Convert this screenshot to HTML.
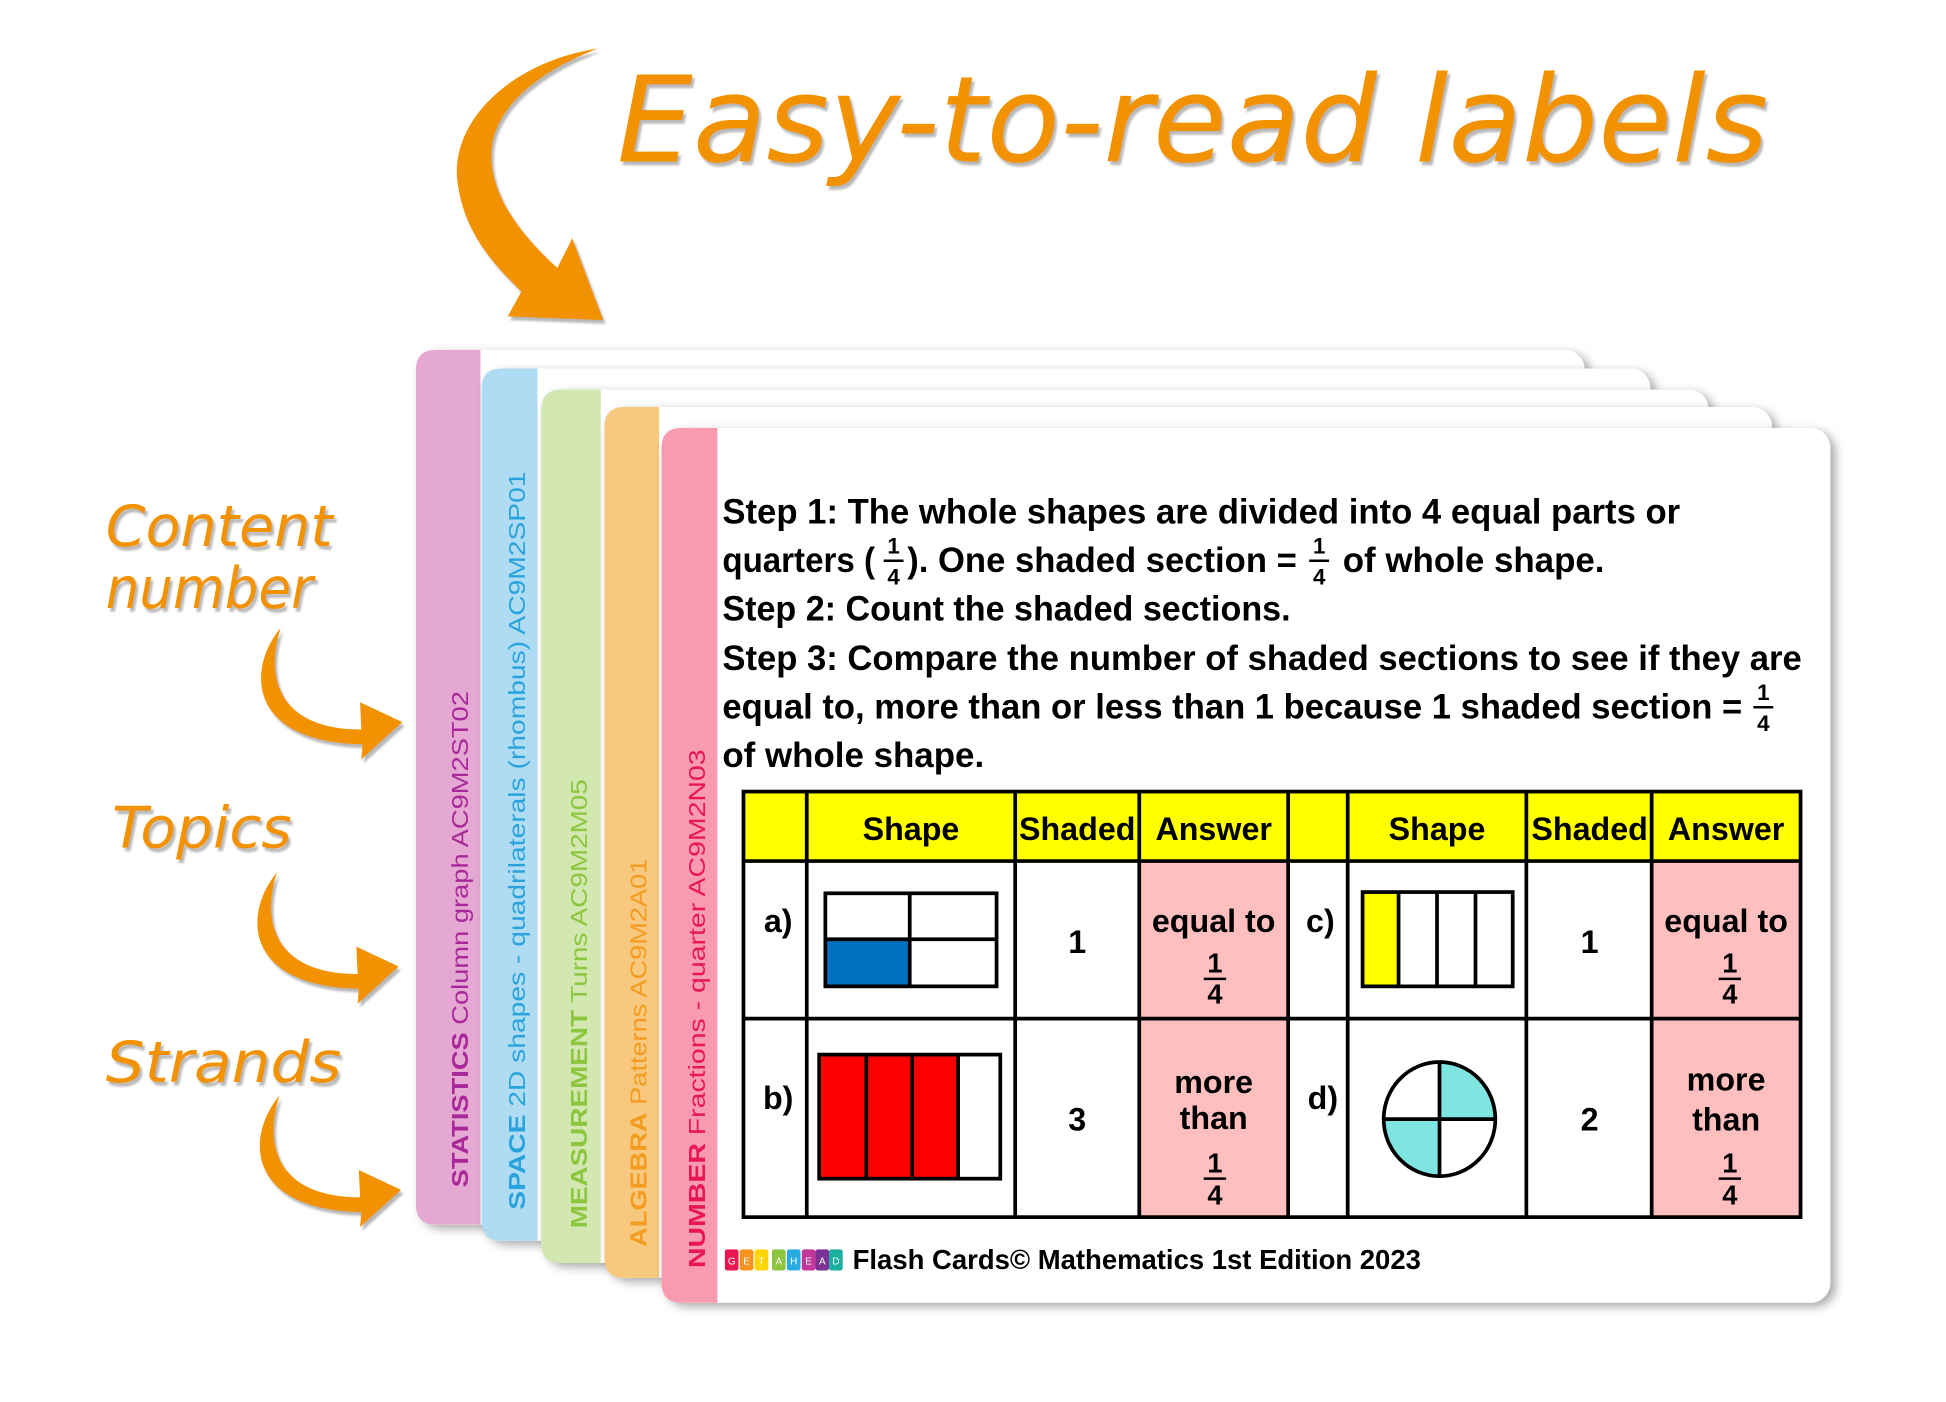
<!DOCTYPE html>
<html><head><meta charset="utf-8"><style>
html,body{margin:0;padding:0;background:#fff;}
svg{display:block;}
.b{font-family:"Liberation Sans Narrow","Liberation Sans",sans-serif;font-weight:bold;fill:#000;}
.h{font-family:"DejaVu Sans","Liberation Sans",sans-serif;font-style:oblique;fill:#f39200;}
.v{font-family:"Liberation Sans",sans-serif;font-size:19px;}
</style></head><body>
<svg width="1946" height="1402" viewBox="0 0 1568 1130" xmlns="http://www.w3.org/2000/svg">
<defs>
<filter id="sh" x="-5%" y="-5%" width="115%" height="115%"><feDropShadow dx="4" dy="3" stdDeviation="4" flood-color="#000" flood-opacity="0.35"/></filter>
<filter id="ts" x="-5%" y="-5%" width="110%" height="120%"><feDropShadow dx="2" dy="3" stdDeviation="0.8" flood-color="#888" flood-opacity="0.6"/></filter>
</defs>

<!-- title -->
<text class="h" x="497" y="130" font-size="96" textLength="928" lengthAdjust="spacingAndGlyphs" filter="url(#ts)">Easy-to-read labels</text>
<path filter="url(#ts)" fill="#f39200" d="M482,39 C410,50 360,100 369,150 C375,190 400,215 420,235 L409,255 L486,258 L461,192 L449,216 C415,185 390,150 397,113 C405,80 440,55 482,39 Z"/>

<!-- side labels -->
<g class="h" font-size="46" filter="url(#ts)">
<text x="85" y="440" textLength="183" lengthAdjust="spacingAndGlyphs">Content</text>
<text x="85" y="490" textLength="167" lengthAdjust="spacingAndGlyphs">number</text>
<text x="90" y="683" textLength="145" lengthAdjust="spacingAndGlyphs">Topics</text>
<text x="85" y="872" textLength="190" lengthAdjust="spacingAndGlyphs">Strands</text>
</g>
<g fill="#f39200" filter="url(#ts)">
<path id="ca" d="M226,506 C198,540 200,598 292,600 L291,612 L324,582 L290,566 L291,588 C228,588 212,550 226,506 Z"/>
<use href="#ca" transform="translate(-3,197)"/>
<use href="#ca" transform="translate(-1,377)"/>
</g>

<!-- card 1 -->
<g filter="url(#sh)"><rect x="335" y="282" width="942" height="705" rx="16" fill="#fff"/></g>
<path d="M351,282 H387 V987 H351 Q335,987 335,971 V298 Q335,282 351,282 Z" fill="#e4a8d2"/>
<text class="v" transform="translate(377,957) rotate(-90)" fill="#a8289a" textLength="400" lengthAdjust="spacingAndGlyphs"><tspan font-weight="bold">STATISTICS</tspan> Column graph AC9M2ST02</text>
<!-- card 2 -->
<g filter="url(#sh)"><rect x="388" y="297" width="942" height="703" rx="16" fill="#fff"/></g>
<path d="M404,297 H433 V1000 H404 Q388,1000 388,984 V313 Q388,297 404,297 Z" fill="#b0dcf3"/>
<text class="v" transform="translate(423,975) rotate(-90)" fill="#2aa3dc" textLength="595" lengthAdjust="spacingAndGlyphs"><tspan font-weight="bold">SPACE</tspan> 2D shapes - quadrilaterals (rhombus) AC9M2SP01</text>
<!-- card 3 -->
<g filter="url(#sh)"><rect x="436" y="314" width="941" height="704" rx="16" fill="#fff"/></g>
<path d="M452,314 H484 V1018 H452 Q436,1018 436,1002 V330 Q436,314 452,314 Z" fill="#d3e8b0"/>
<text class="v" transform="translate(473,990) rotate(-90)" fill="#8cc63f" textLength="362" lengthAdjust="spacingAndGlyphs"><tspan font-weight="bold">MEASUREMENT</tspan> Turns AC9M2M05</text>
<!-- card 4 -->
<g filter="url(#sh)"><rect x="487" y="328" width="941" height="702" rx="16" fill="#fff"/></g>
<path d="M503,328 H531 V1030 H503 Q487,1030 487,1014 V344 Q487,328 503,328 Z" fill="#f7c87e"/>
<text class="v" transform="translate(521,1005) rotate(-90)" fill="#f39c1f" textLength="313" lengthAdjust="spacingAndGlyphs"><tspan font-weight="bold">ALGEBRA</tspan> Patterns AC9M2A01</text>
<!-- card 5 front -->
<g filter="url(#sh)"><rect x="533" y="345" width="942" height="705" rx="16" fill="#fff"/></g>
<path d="M549,345 H578 V1050 H549 Q533,1050 533,1034 V361 Q533,345 549,345 Z" fill="#f99bb0"/>
<text class="v" transform="translate(568,1022) rotate(-90)" fill="#e8174f" textLength="418" lengthAdjust="spacingAndGlyphs"><tspan font-weight="bold">NUMBER</tspan> Fractions - quarter AC9M2N03</text>

<!-- step text -->
<g class="b" font-size="28">
<text x="582" y="422" textLength="772" lengthAdjust="spacingAndGlyphs">Step 1: The whole shapes are divided into 4 equal parts or</text>
<text x="582" y="461" textLength="123" lengthAdjust="spacingAndGlyphs">quarters (</text>
<text x="731" y="461" textLength="314" lengthAdjust="spacingAndGlyphs">). One shaded section =</text>
<text x="1082" y="461" textLength="211" lengthAdjust="spacingAndGlyphs">of whole shape.</text>
<text x="582" y="500" textLength="458" lengthAdjust="spacingAndGlyphs">Step 2: Count the shaded sections.</text>
<text x="582" y="540" textLength="870" lengthAdjust="spacingAndGlyphs">Step 3: Compare the number of shaded sections to see if they are</text>
<text x="582" y="579" textLength="822" lengthAdjust="spacingAndGlyphs">equal to, more than or less than 1 because 1 shaded section =</text>
<text x="582" y="618" textLength="211" lengthAdjust="spacingAndGlyphs">of whole shape.</text>
</g>
<g class="b" font-size="18" text-anchor="middle">
<text x="720" y="446">1</text><text x="720" y="471">4</text>
<text x="1063" y="446">1</text><text x="1063" y="471">4</text>
<text x="1421" y="564">1</text><text x="1421" y="589">4</text>
</g>
<g stroke="#000" stroke-width="2">
<line x1="712" y1="452" x2="728" y2="452"/><line x1="1055" y1="452" x2="1071" y2="452"/><line x1="1413" y1="570" x2="1429" y2="570"/>
</g>

<!-- table -->
<rect x="599" y="638" width="852" height="56" fill="#ffff00"/>
<rect x="918" y="694" width="120" height="287" fill="#ffbfbf"/>
<rect x="1331" y="694" width="120" height="287" fill="#ffbfbf"/>
<g stroke="#000" stroke-width="3" fill="none">
<rect x="599" y="638" width="852" height="343"/>
<line x1="599" y1="694" x2="1451" y2="694"/><line x1="599" y1="821" x2="1451" y2="821"/>
<line x1="650" y1="638" x2="650" y2="981"/><line x1="818" y1="638" x2="818" y2="981"/>
<line x1="918" y1="638" x2="918" y2="981"/><line x1="1038" y1="638" x2="1038" y2="981"/>
<line x1="1086" y1="638" x2="1086" y2="981"/><line x1="1230" y1="638" x2="1230" y2="981"/>
<line x1="1331" y1="638" x2="1331" y2="981"/>
</g>
<g class="b" font-size="26" text-anchor="middle">
<text x="734" y="677">Shape</text><text x="868" y="677">Shaded</text><text x="978" y="677">Answer</text>
<text x="1158" y="677">Shape</text><text x="1281" y="677">Shaded</text><text x="1391" y="677">Answer</text>
<text x="627" y="751">a)</text><text x="868" y="768">1</text><text x="978" y="751">equal to</text>
<text x="1064" y="751">c)</text><text x="1281" y="768">1</text><text x="1391" y="751">equal to</text>
<text x="627" y="894">b)</text><text x="868" y="911">3</text><text x="978" y="881">more</text><text x="978" y="910">than</text>
<text x="1066" y="894">d)</text><text x="1281" y="911">2</text><text x="1391" y="879">more</text><text x="1391" y="911">than</text>
</g>
<g class="b" font-size="22" text-anchor="middle">
<text x="979" y="784">1</text><text x="979" y="809">4</text>
<text x="1394" y="784">1</text><text x="1394" y="809">4</text>
<text x="979" y="945">1</text><text x="979" y="971">4</text>
<text x="1394" y="945">1</text><text x="1394" y="971">4</text>
</g>
<g stroke="#000" stroke-width="2">
<line x1="970" y1="789" x2="988" y2="789"/><line x1="1385" y1="789" x2="1403" y2="789"/>
<line x1="970" y1="950" x2="988" y2="950"/><line x1="1385" y1="950" x2="1403" y2="950"/>
</g>
<!-- shapes -->
<rect x="665" y="757" width="68" height="38" fill="#0070c0"/>
<g stroke="#000" stroke-width="3" fill="none">
<rect x="665" y="720" width="138" height="75"/><line x1="733" y1="720" x2="733" y2="795"/><line x1="665" y1="757" x2="803" y2="757"/>
</g>
<rect x="660" y="850" width="112" height="100" fill="#ff0000"/>
<g stroke="#000" stroke-width="3" fill="none">
<rect x="660" y="850" width="146" height="100"/><line x1="698" y1="850" x2="698" y2="950"/><line x1="735" y1="850" x2="735" y2="950"/><line x1="772" y1="850" x2="772" y2="950"/>
</g>
<rect x="1098" y="719" width="29" height="76" fill="#ffff00"/>
<g stroke="#000" stroke-width="3" fill="none">
<rect x="1098" y="719" width="121" height="76"/><line x1="1127" y1="719" x2="1127" y2="795"/><line x1="1158" y1="719" x2="1158" y2="795"/><line x1="1189" y1="719" x2="1189" y2="795"/>
</g>
<path d="M1160,902 V856 A45,46 0 0 1 1205,902 Z" fill="#7fe5e0"/>
<path d="M1160,902 V948 A45,46 0 0 1 1115,902 Z" fill="#7fe5e0"/>
<g stroke="#000" stroke-width="3" fill="none">
<ellipse cx="1160" cy="902" rx="45" ry="46"/><line x1="1160" y1="856" x2="1160" y2="948"/><line x1="1115" y1="902" x2="1205" y2="902"/>
</g>

<!-- footer -->
<g font-family="Liberation Sans,sans-serif" font-size="8" fill="#fff" text-anchor="middle">
<rect x="584" y="1007" width="11" height="17" rx="2" fill="#e8174f"/><text x="589.5" y="1019">G</text>
<rect x="596" y="1007" width="11" height="17" rx="2" fill="#f7931e"/><text x="601.5" y="1019">E</text>
<rect x="608" y="1007" width="11" height="17" rx="2" fill="#ffd500"/><text x="613.5" y="1019">T</text>
<rect x="622" y="1007" width="11" height="17" rx="2" fill="#8cc63f"/><text x="627.5" y="1019">A</text>
<rect x="634" y="1007" width="11" height="17" rx="2" fill="#29abe2"/><text x="639.5" y="1019">H</text>
<rect x="646" y="1007" width="11" height="17" rx="2" fill="#c2389a"/><text x="651.5" y="1019">E</text>
<rect x="657" y="1007" width="11" height="17" rx="2" fill="#7b3294"/><text x="662.5" y="1019">A</text>
<rect x="668" y="1007" width="11" height="17" rx="2" fill="#1aaf9e"/><text x="673.5" y="1019">D</text>
</g>
<text class="b" x="687" y="1023" font-size="22" textLength="458" lengthAdjust="spacingAndGlyphs">Flash Cards© Mathematics 1st Edition 2023</text>
</svg>
</body></html>
